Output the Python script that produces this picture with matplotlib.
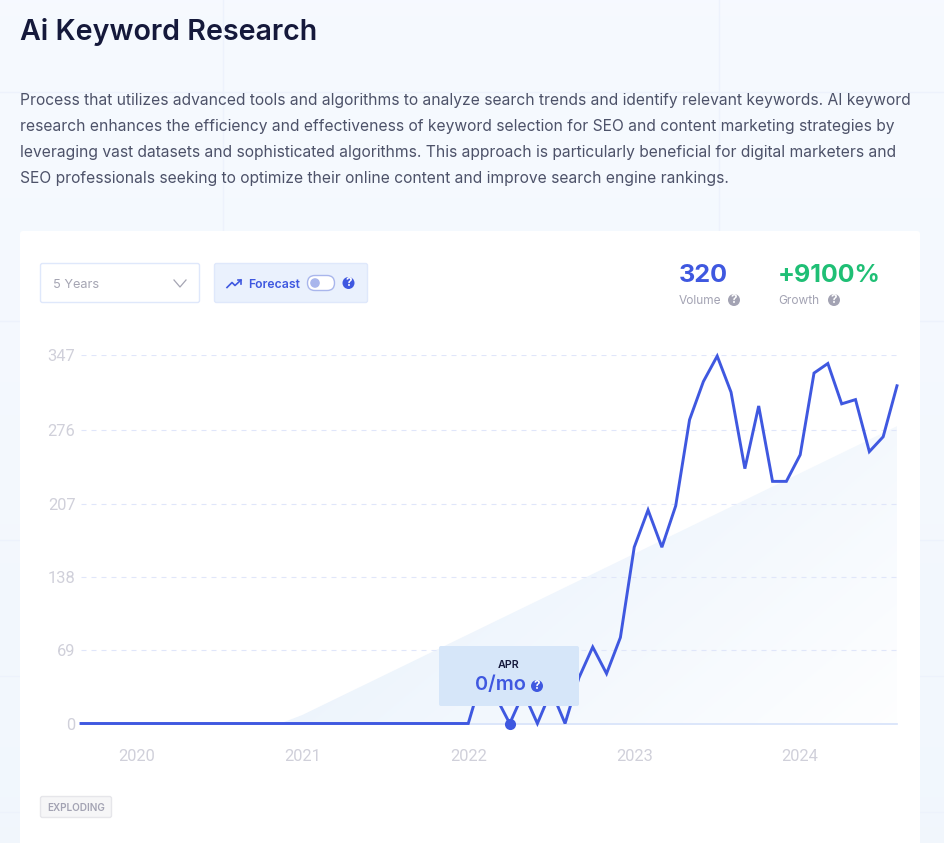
import numpy as np
import matplotlib
matplotlib.use("Agg")
import matplotlib.pyplot as plt
from matplotlib.patches import FancyBboxPatch, Polygon, Circle

plt.rcParams['font.family'] = ['Inter', 'DejaVu Sans']

# months counted from Jan 2020, Sep 2019 .. Aug 2024
months = list(range(-4, 56))
volume = [0, 0, 0, 0,                                   # 2019
          0, 0, 0, 0, 0, 0, 0, 0, 0, 0, 0, 0,           # 2020
          0, 0, 0, 0, 0, 0, 0, 0, 0, 0, 0, 0,           # 2021
          0, 44, 25, 0, 29, 0, 31, 0, 43, 72, 47, 81,   # 2022
          166, 201, 166, 205, 286, 322, 346, 312, 240, 299, 228, 228,  # 2023
          253, 330, 339, 301, 305, 256, 270, 318]       # 2024

trend_months = [10.4, 12, 55]
trend_values = [0, 8, 280]

y_ticks = [0, 69, 138, 207, 276, 347]
year_ticks = [0, 12, 24, 36, 48]
year_labels = ["2020", "2021", "2022", "2023", "2024"]

title = "Ai Keyword Research"
description = [
    "Process that utilizes advanced tools and algorithms to analyze search trends and identify relevant keywords. AI keyword",
    "research enhances the efficiency and effectiveness of keyword selection for SEO and content marketing strategies by",
    "leveraging vast datasets and sophisticated algorithms. This approach is particularly beneficial for digital marketers and",
    "SEO professionals seeking to optimize their online content and improve search engine rankings.",
]

BLUE = "#3f58e0"
GREEN = "#1fbf75"
GREY = "#a3a3b3"
W, H = 944, 843
px = 0.72  # css px to points at dpi 100

fig = plt.figure(figsize=(W / 100, H / 100), dpi=100, facecolor="#f5faff")


def pixel_axes(zorder):
    a = fig.add_axes([0, 0, 1, 1], zorder=zorder)
    a.set_xlim(0, W)
    a.set_ylim(H, 0)
    a.axis("off")
    a.patch.set_alpha(0)
    return a


def box(a, x, y, w, h, fc, ec="none", r=2, lw=1, z=1):
    a.add_patch(FancyBboxPatch((x + r, y + r), w - 2 * r, h - 2 * r,
                               boxstyle=f"round,pad={r}", fc=fc, ec=ec, lw=lw, zorder=z))


def help_icon(a, x, y, r, fc, z=3):
    a.add_patch(Circle((x, y), r, fc=fc, ec="none", zorder=z))
    a.text(x, y - 0.3, "?", color="white", fontsize=r * 1.75 * px * 1.1, fontweight="bold",
           ha="center", va="center", zorder=z + 1)


# page background
bg = pixel_axes(0)
shade = np.linspace(0, 1, 256)[:, None, None]
top = np.array([0.965, 0.98, 1.0])
bottom = np.array([0.947, 0.968, 0.992])
bg.imshow(top + (bottom - top) * shade, extent=(0, W, H, 0), aspect="auto", zorder=0)
for x in [222.5, 718.5]:
    bg.plot([x, x], [0, H], color="#edf2fc", lw=1, zorder=1)
for y in [92, 321, 540, 676, 812]:
    bg.plot([0, W], [y, y], color="#edf2fc", lw=1, zorder=1)
bg.add_patch(FancyBboxPatch((23, 234), 894, 700, boxstyle="round,pad=3", fc="white", ec="none", zorder=2))
bg.set_xlim(0, W)
bg.set_ylim(H, 0)

bg.text(20, 32.5, title, color="#15193b", fontsize=28.6 * px, fontweight=600, va="center", zorder=3)
for y, line in zip([101, 127, 152, 178], description):
    bg.text(20, y, line, color="#4d5269", fontsize=15.62 * px, va="center", zorder=3)

# chart
ax = fig.add_axes([81 / W, 1 - 723.5 / H, 816 / W, 368.5 / H], zorder=1)
ax.patch.set_alpha(0)
for side in ["left", "top", "right", "bottom"]:
    ax.spines[side].set_visible(False)

# trend area, fades to the right and to the bottom
gx, gy = np.meshgrid(np.linspace(0, 1, 200), np.linspace(0, 1, 200))
fade = np.clip(0.62 * gx + 0.38 * gy, 0, 1)[..., None]
strong = np.array([0.89, 0.935, 0.985])
weak = np.array([0.995, 0.997, 1.0])
area = ax.imshow(strong + (weak - strong) * fade, extent=(10, 55, 0, 300), aspect="auto", zorder=1)
clip = Polygon(list(zip(trend_months, trend_values)) + [(55, 0)], transform=ax.transData,
               fc="none", ec="none")
ax.add_patch(clip)
area.set_clip_path(clip)

for v in y_ticks[1:]:
    ax.plot([months[0], months[-1]], [v, v], color="#e0e6fa", lw=0.8, dashes=(4.5, 4.5), zorder=2)
ax.plot([months[0], months[-1]], [0, 0], color="#d5e2fa", lw=1.2, zorder=2, clip_on=False)
ax.plot(months, volume, color=BLUE, lw=2.1, solid_joinstyle="miter", zorder=3, clip_on=False)
apr = months.index(27)
ax.plot(months[apr], volume[apr], "o", color=BLUE, ms=8, mec="none", zorder=4, clip_on=False)

ax.set_xlim(months[0], months[-1])
ax.set_ylim(0, 347)
ax.set_yticks(y_ticks)
ax.set_yticklabels([str(v) for v in y_ticks], family="Roboto")
ax.set_xticks(year_ticks)
ax.set_xticklabels(year_labels, family="Roboto")
ax.tick_params(axis="both", length=0, labelcolor="#d0d0da", labelsize=16.5 * px)
ax.tick_params(axis="y", pad=4)
ax.tick_params(axis="x", pad=18.5)

# controls and labels on top
ov = pixel_axes(2)
box(ov, 40.5, 263.5, 159, 39, "white", "#dfe8fb", z=2)
ov.text(53, 285, "5 Years", color="#a5a5b3", fontsize=12.8 * px, va="center", zorder=3)
ov.plot([174, 180, 186], [280, 287, 280], color="#a5a5b3", lw=0.9, zorder=3)

box(ov, 214.5, 263.5, 153, 39, "#eaf1fd", "#dfe8fb", z=2)
ov.plot([227, 232, 235, 241], [287.5, 282.5, 285.5, 280], color=BLUE, lw=1.2, zorder=3)
ov.plot([237.5, 241, 241], [280, 280, 283.5], color=BLUE, lw=1.2, zorder=3)
ov.text(248, 285, "Forecast", color=BLUE, fontsize=12.2 * px, fontweight=600, va="center", zorder=3)
box(ov, 307.5, 275.5, 27, 15, "white", "#a9b6ec", r=7.4, z=3)
ov.add_patch(Circle((315, 283), 4.8, fc="#a9b6ec", ec="none", zorder=4))
help_icon(ov, 348.5, 283, 6, BLUE)

ov.text(679, 275, "320", color=BLUE, fontsize=25.3 * px, fontweight=700, va="center", zorder=3)
ov.text(778, 275, "+9100%", color=GREEN, fontsize=25 * px, fontweight=700, va="center", zorder=3)
ov.text(679, 301, "Volume", color=GREY, fontsize=11.9 * px, va="center", zorder=3)
ov.text(778, 301, "Growth", color=GREY, fontsize=11.9 * px, va="center", zorder=3)
help_icon(ov, 734, 300, 6, GREY)
help_icon(ov, 834, 300, 6, GREY)

box(ov, 439, 646, 140, 60, "#d6e6f9", z=5)
ov.text(509, 665.5, "APR", color="#15193b", fontsize=10.8 * px, fontweight=600, ha="center",
        va="center", zorder=6)
ov.text(501, 685.5, "0/mo", color=BLUE, fontsize=20 * px, fontweight=600, ha="center", va="center", zorder=6)
help_icon(ov, 537, 686, 6, BLUE, z=6)

box(ov, 40.5, 796.5, 71, 21, "#f6f6f7", "#e6e6ea", z=2)
ov.text(76, 808, "EXPLODING", color=GREY, fontsize=10 * px, fontweight=600, ha="center", va="center", zorder=3)

fig.savefig("out.png", dpi=100)
